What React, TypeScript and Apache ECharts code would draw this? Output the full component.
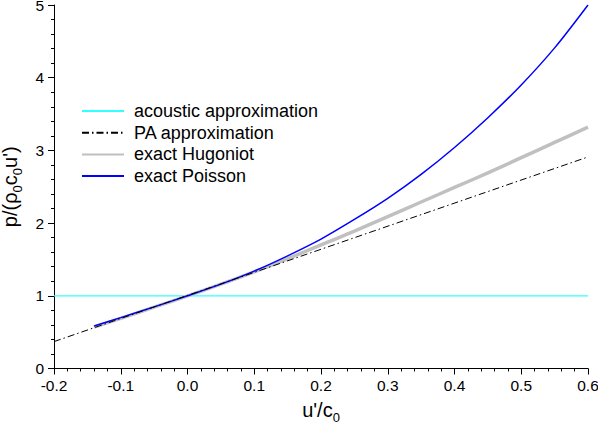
import React, { useEffect, useRef } from "react";
import * as echarts from "echarts";

const xTicks = [-0.2, -0.1, 0.0, 0.1, 0.2, 0.3, 0.4, 0.5, 0.6];
const yTicks = [0, 1, 2, 3, 4, 5];

const curveX = [-0.14, -0.1, -0.05, 0, 0.05, 0.1, 0.15, 0.2, 0.25, 0.3, 0.35, 0.4, 0.45, 0.5, 0.55, 0.6];
const hugoniotY = [0.57, 0.69, 0.843, 1.0, 1.16, 1.33, 1.51, 1.7, 1.89, 2.09, 2.29, 2.49, 2.69, 2.9, 3.11, 3.32];
const poissonY = [0.585, 0.7, 0.848, 1.0, 1.16, 1.34, 1.55, 1.78, 2.05, 2.34, 2.67, 3.04, 3.45, 3.9, 4.41, 5.0];

const acousticX = [-0.2, 0.6];
const acousticY = [1, 1];
const paX = [-0.2, 0.6];
const paY = [0.37, 2.91];

const seriesNames = ["acoustic approximation", "PA approximation", "exact Hugoniot", "exact Poisson"];

const FONT = "Liberation Sans, Arial, sans-serif";

const zip = (xs: number[], ys: number[]) => xs.map((x, i) => [x, ys[i]]);

export default function App() {
  const ref = useRef<HTMLDivElement>(null);
  useEffect(() => {
    if (!ref.current) return;
    const chart = echarts.init(ref.current, undefined, { renderer: "svg" });
    const rich = {
      n: { fontSize: 20, fontFamily: FONT, color: "#000", verticalAlign: "top", lineHeight: 20 },
      s: { fontSize: 13, fontFamily: FONT, color: "#000", verticalAlign: "bottom", lineHeight: 24 },
    };
    chart.setOption({
      animation: false,
      backgroundColor: "#fff",
      grid: { left: 54, right: 10, top: 5, bottom: 57.5, containLabel: false, outerBoundsMode: "none" },
      legend: {
        orient: "vertical",
        left: 81,
        top: 102,
        padding: 0,
        itemWidth: 42,
        itemHeight: 14,
        itemGap: 3.7,
        itemStyle: { opacity: 0 },
        textStyle: { fontSize: 18, fontFamily: FONT, color: "#000", padding: [0, 0, 0, 5] },
        data: seriesNames.map((n) => ({ name: n })),
      },
      xAxis: {
        type: "value",
        min: -0.2,
        max: 0.6,
        interval: 0.1,
        name: "{n|u'/c}{s|0}",
        nameLocation: "middle",
        nameGap: 31,
        nameTextStyle: { rich },
        axisLine: { show: true, onZero: false, lineStyle: { color: "#000", width: 1 } },
        axisTick: { show: true, length: 6, lineStyle: { color: "#000" } },
        minorTick: { show: true, splitNumber: 5, length: 3, lineStyle: { color: "#000" } },
        splitLine: { show: false },
        axisLabel: {
          fontSize: 15.5,
          fontFamily: FONT,
          color: "#000",
          margin: 9,
          formatter: (v: number) => v.toFixed(1),
        },
      },
      yAxis: {
        type: "value",
        min: 0,
        max: 5,
        interval: 1,
        name: "{n|p/(ρ}{s|0}{n|c}{s|0}{n|u')}",
        nameLocation: "middle",
        nameGap: 25,
        nameTextStyle: { rich },
        axisLine: { show: true, onZero: false, lineStyle: { color: "#000", width: 1 } },
        axisTick: { show: true, length: 6, lineStyle: { color: "#000" } },
        minorTick: { show: true, splitNumber: 5, length: 3, lineStyle: { color: "#000" } },
        splitLine: { show: false },
        axisLabel: { fontSize: 15.5, fontFamily: FONT, color: "#000", margin: 10 },
      },
      series: [
        {
          name: seriesNames[0],
          type: "line",
          data: zip(acousticX, acousticY),
          symbol: "none",
          lineStyle: { color: "#33ffff", width: 1.2 },
          itemStyle: { color: "#33ffff" },
          z: 1,
        },
        {
          name: seriesNames[2],
          type: "line",
          data: zip(curveX, hugoniotY),
          symbol: "none",
          smooth: 0.3,
          lineStyle: { color: "#c0c0c0", width: 3.5 },
          itemStyle: { color: "#c0c0c0" },
          z: 2,
        },
        {
          name: seriesNames[3],
          type: "line",
          data: zip(curveX, poissonY),
          symbol: "none",
          smooth: 0.3,
          lineStyle: { color: "#0000ff", width: 1.5 },
          itemStyle: { color: "#0000ff" },
          z: 3,
        },
        {
          name: seriesNames[1],
          type: "line",
          data: zip(paX, paY),
          symbol: "none",
          lineStyle: { color: "#000", width: 1, type: [7, 3, 1.5, 3] },
          itemStyle: { color: "#000" },
          z: 4,
        },
      ],
    });
    return () => chart.dispose();
  }, []);
  return (
    <div
      ref={ref}
      style={{ position: "fixed", left: 0, top: 0, width: 598, height: 426, background: "#fff" }}
    />
  );
}
